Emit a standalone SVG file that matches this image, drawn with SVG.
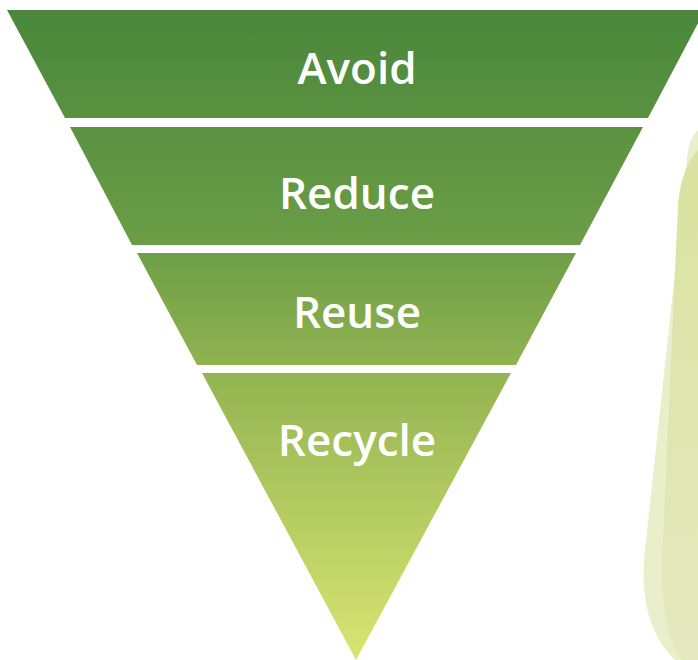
<svg xmlns="http://www.w3.org/2000/svg" width="698" height="660" viewBox="0 0 698 660">
  <defs>
    <linearGradient id="pyr" gradientUnits="userSpaceOnUse" x1="0" y1="10" x2="0" y2="660">
      <stop offset="0" stop-color="#4a873b"/>
      <stop offset="0.36" stop-color="#6b9d46"/>
      <stop offset="0.56" stop-color="#93b452"/>
      <stop offset="1" stop-color="#d8e572"/>
    </linearGradient>
    <linearGradient id="leaf" gradientUnits="userSpaceOnUse" x1="0" y1="150" x2="0" y2="660">
      <stop offset="0" stop-color="#d9e29f"/>
      <stop offset="1" stop-color="#e4e9c0"/>
    </linearGradient>
    <style>
      .lbl { font-family: "Open Sans", "Liberation Sans", sans-serif; font-weight: 600; fill: #ffffff; text-anchor: middle; font-size: 44px; }
    </style>
  </defs>
  <g id="leaves">
    <path d="M 698 130 C 690 138 688 148 687 160 L 644 560 C 641 610 655 640 675 660 L 698 660 Z" fill="#e9eecb"/>
    <path d="M 698 150 C 688 160 680 180 678 205 L 662 560 C 661 610 668 640 682 660 L 698 660 Z" fill="url(#leaf)"/>
  </g>
  <g id="avoid">
    <polygon points="7,10 705,10 648,118 65,118" fill="url(#pyr)"/>
    <text class="lbl" x="357" y="84">Avoid</text>
  </g>
  <g id="reduce">
    <polygon points="70,127 643,127 580,245 132,245" fill="url(#pyr)"/>
    <text class="lbl" x="357" y="209">Reduce</text>
  </g>
  <g id="reuse">
    <polygon points="137,253 576,253 516,365 197,365" fill="url(#pyr)"/>
    <text class="lbl" x="357" y="328">Reuse</text>
  </g>
  <g id="recycle">
    <polygon points="202,373 511,373 356,660" fill="url(#pyr)"/>
    <text class="lbl" x="357" y="456">Recycle</text>
  </g>
  <g id="connectors"/>
</svg>
